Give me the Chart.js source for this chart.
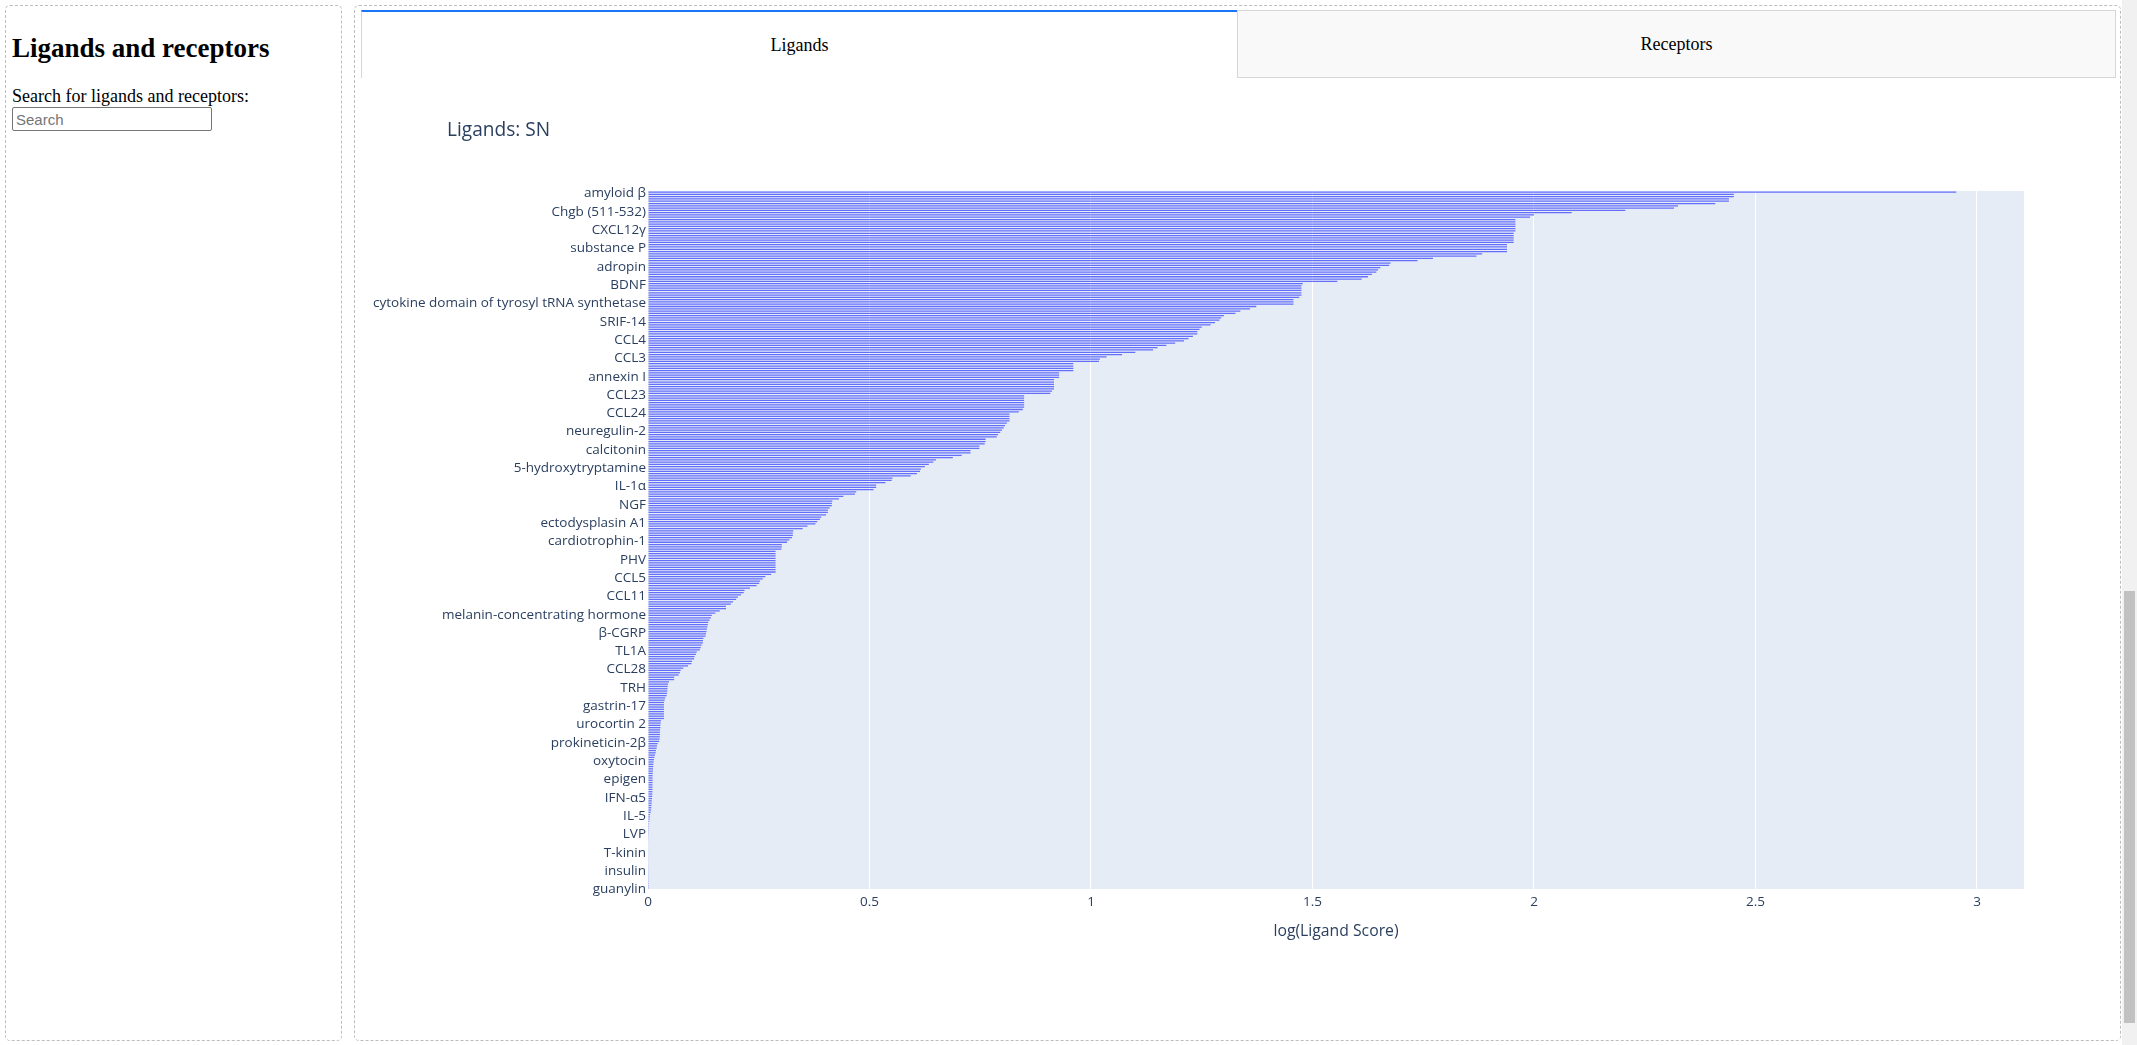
<!DOCTYPE html>
<html>
<head>
<meta charset="utf-8">
<script src="https://cdn.jsdelivr.net/npm/chart.js@4.4.1/dist/chart.umd.min.js"></script>
<style>
html,body{margin:0;padding:0;background:#fff;overflow:hidden;}
body{width:2137px;height:1045px;position:relative;font-family:'Liberation Serif','Times New Roman',serif;color:#000;}
.panel{position:absolute;border:1px dashed #bdbdbd;border-radius:5px;box-sizing:border-box;}
#leftPanel{left:5px;top:5px;width:337px;height:1036px;}
#rightPanel{left:354px;top:5px;width:1767px;height:1036px;}
#heading{position:absolute;left:12px;top:33px;margin:0;font-size:27px;line-height:31px;font-weight:bold;white-space:nowrap;}
#searchLabel{position:absolute;left:12px;top:86px;font-size:18px;line-height:21px;white-space:nowrap;}
#search{position:absolute;left:12px;top:107px;width:200px;height:24px;box-sizing:border-box;border:1px solid #767676;border-radius:2px;padding:0 3px;font:15px 'Liberation Sans',Arial,sans-serif;background:#fff;}
#search::placeholder{color:#757575;}
.tab{position:absolute;top:10px;height:68px;box-sizing:border-box;display:flex;align-items:center;justify-content:center;font-size:18px;}
#tab1{left:361px;width:876px;background:#fff;border-top:2px solid #1975FA;border-left:1px solid #d6d6d6;}
#tab2{left:1237px;width:879px;background:#f9f9f9;border:1px solid #d6d6d6;}
#chartBox{position:absolute;left:355px;top:90px;width:1765px;height:900px;}
#sbTrack{position:absolute;left:2122px;top:0;width:15px;height:1045px;background:#f1f1f1;}
#sbThumb{position:absolute;left:2124px;top:591px;width:11px;height:432px;background:#c1c1c1;}
</style>
</head>
<body>
<div class="panel" id="leftPanel"></div>
<h2 id="heading">Ligands and receptors</h2>
<div id="searchLabel">Search for ligands and receptors:</div>
<input id="search" type="text" placeholder="Search">
<div class="panel" id="rightPanel"></div>
<div class="tab" id="tab1">Ligands</div>
<div class="tab" id="tab2">Receptors</div>
<div id="chartBox"><canvas id="chart"></canvas></div>
<div id="sbTrack"></div>
<div id="sbThumb"></div>
<script>
// ---- data ----
const shownLigands = [
  'amyloid β','Chgb (511-532)','CXCL12γ','substance P','adropin','BDNF',
  'cytokine domain of tyrosyl tRNA synthetase','SRIF-14','CCL4','CCL3','annexin I',
  'CCL23','CCL24','neuregulin-2','calcitonin','5-hydroxytryptamine','IL-1α','NGF',
  'ectodysplasin A1','cardiotrophin-1','PHV','CCL5','CCL11','melanin-concentrating hormone',
  'β-CGRP','TL1A','CCL28','TRH','gastrin-17','urocortin 2','prokineticin-2β','oxytocin',
  'epigen','IFN-α5','IL-5','LVP','T-kinin','insulin','guanylin'
];
const labelStep = 8; // one visible category label every 8 bars
const ligandScores = [
  2.953, 2.451, 2.451, 2.440, 2.440, 2.409, 2.325, 2.316,
  2.206, 2.085, 2.000, 1.991, 1.958, 1.958, 1.958, 1.958,
  1.958, 1.958, 1.954, 1.954, 1.954, 1.954, 1.954, 1.939,
  1.939, 1.939, 1.939, 1.883, 1.870, 1.772, 1.737, 1.676,
  1.673, 1.653, 1.648, 1.644, 1.634, 1.625, 1.611, 1.556,
  1.478, 1.475, 1.475, 1.475, 1.475, 1.475, 1.470, 1.457,
  1.457, 1.457, 1.373, 1.359, 1.337, 1.326, 1.300, 1.294,
  1.290, 1.280, 1.270, 1.250, 1.245, 1.240, 1.240, 1.230,
  1.220, 1.210, 1.190, 1.170, 1.150, 1.140, 1.100, 1.070,
  1.035, 1.020, 1.018, 0.960, 0.960, 0.960, 0.960, 0.928,
  0.928, 0.928, 0.9165, 0.9165, 0.9165, 0.9165, 0.9165, 0.912,
  0.908, 0.849, 0.849, 0.849, 0.849, 0.849, 0.849, 0.846,
  0.837, 0.816, 0.816, 0.816, 0.816, 0.810, 0.806, 0.803,
  0.799, 0.795, 0.790, 0.787, 0.762, 0.762, 0.760, 0.748,
  0.748, 0.728, 0.728, 0.708, 0.688, 0.650, 0.644, 0.634,
  0.625, 0.616, 0.614, 0.607, 0.593, 0.552, 0.550, 0.536,
  0.515, 0.515, 0.509, 0.470, 0.467, 0.441, 0.431, 0.416,
  0.415, 0.415, 0.410, 0.406, 0.406, 0.402, 0.391, 0.388,
  0.382, 0.378, 0.360, 0.349, 0.328, 0.327, 0.327, 0.325,
  0.319, 0.314, 0.302, 0.302, 0.301, 0.288, 0.288, 0.288,
  0.288, 0.288, 0.288, 0.288, 0.288, 0.288, 0.288, 0.278,
  0.265, 0.259, 0.253, 0.251, 0.245, 0.230, 0.218, 0.216,
  0.210, 0.203, 0.199, 0.192, 0.187, 0.176, 0.176, 0.162,
  0.152, 0.144, 0.142, 0.139, 0.136, 0.135, 0.134, 0.133,
  0.132, 0.131, 0.130, 0.125, 0.124, 0.124, 0.121, 0.119,
  0.117, 0.110, 0.108, 0.105, 0.104, 0.0994, 0.098, 0.0903,
  0.0797, 0.0737, 0.072, 0.0692, 0.059, 0.059, 0.0474, 0.0452,
  0.0445, 0.044, 0.0437, 0.043, 0.042, 0.039, 0.0376, 0.036,
  0.036, 0.036, 0.036, 0.036, 0.036, 0.036, 0.036, 0.0293,
  0.0286, 0.028, 0.028, 0.0274, 0.027, 0.027, 0.0266, 0.026,
  0.0252, 0.0218, 0.0203, 0.0196, 0.018, 0.0173, 0.0158, 0.0143,
  0.0135, 0.0128, 0.012, 0.0118, 0.0113, 0.011, 0.0105, 0.0105,
  0.0104, 0.0104, 0.0103, 0.0102, 0.0101, 0.0100, 0.0099, 0.0098,
  0.0095, 0.009, 0.0085, 0.0083, 0.0078, 0.0075, 0.007, 0.0061,
  0.0045, 0.004, 0.0035, 0.003, 0.0025, 0.0022, 0.0021, 0.002,
  0.0019, 0.0018, 0.0016, 0.0015, 0.0014, 0.0013, 0.0013, 0.0012,
  0.0012, 0.0011, 0.0011, 0.001, 0.001, 0.0009, 0.0009, 0.0008,
  0.0008, 0.0007, 0.0007, 0.0006, 0.0005, 0.0005, 0.0004, 0.0003,
  0.0002
];
const xTickValues = [0, 0.5, 1, 1.5, 2, 2.5, 3];
const xRange = [0, 3.106];
const chartTitle = 'Ligands: SN';
const xAxisTitle = 'log(Ligand Score)';

// ---- chart ----
const categories = ligandScores.map((_, i) => (i % labelStep === 0 ? shownLigands[i / labelStep] : ''));
const textColor = '#2a3f5f';
Chart.defaults.font.family = "'Open Sans', sans-serif";

const plotBg = {
  id: 'plotBg',
  afterLayout(c) {
    // title starts further right than the y-axis label column
    if (c.titleBlock) { c.titleBlock.left += 92; c.titleBlock.right += 92; }
  },
  beforeDraw(c) {
    const a = c.chartArea, ctx = c.ctx;
    ctx.save();
    ctx.fillStyle = '#E5ECF6';
    ctx.fillRect(a.left, a.top, a.right - a.left, a.bottom - a.top);
    ctx.restore();
  }
};

new Chart(document.getElementById('chart'), {
  type: 'bar',
  data: {
    labels: categories,
    datasets: [{
      data: ligandScores,
      backgroundColor: '#636efa',
      borderWidth: 0,
      categoryPercentage: 1,
      barPercentage: 0.55
    }]
  },
  options: {
    indexAxis: 'y',
    responsive: true,
    maintainAspectRatio: false,
    animation: false,
    layout: { padding: { left: 0, right: 96, top: 0, bottom: 0 } },
    plugins: {
      legend: { display: false },
      tooltip: { enabled: false },
      title: {
        display: true, text: chartTitle, align: 'start', color: textColor,
        font: { size: 19.1, weight: 'normal' },
        padding: { top: 29, bottom: 49 }
      }
    },
    scales: {
      y: {
        type: 'category',
        grid: { display: false, drawTicks: false },
        border: { display: false },
        ticks: { autoSkip: false, color: textColor, font: { size: 13.5 }, padding: 2, labelOffset: 1.5 },
        afterFit(s) { s.width = 293; }
      },
      x: {
        type: 'linear', min: xRange[0], max: xRange[1],
        grid: { color: '#ffffff', lineWidth: 1.1, drawTicks: false },
        border: { display: false },
        afterBuildTicks(s) { s.ticks = xTickValues.map(v => ({ value: v })); },
        ticks: { color: textColor, font: { size: 13.5 }, padding: 5, callback: v => String(v) },
        title: { display: true, text: xAxisTitle, color: textColor, font: { size: 15.75 }, padding: { top: 4, bottom: 49.5 } },
        afterFit(s) { s.height = 101; }
      }
    }
  },
  plugins: [plotBg]
});
</script>
</body>
</html>
